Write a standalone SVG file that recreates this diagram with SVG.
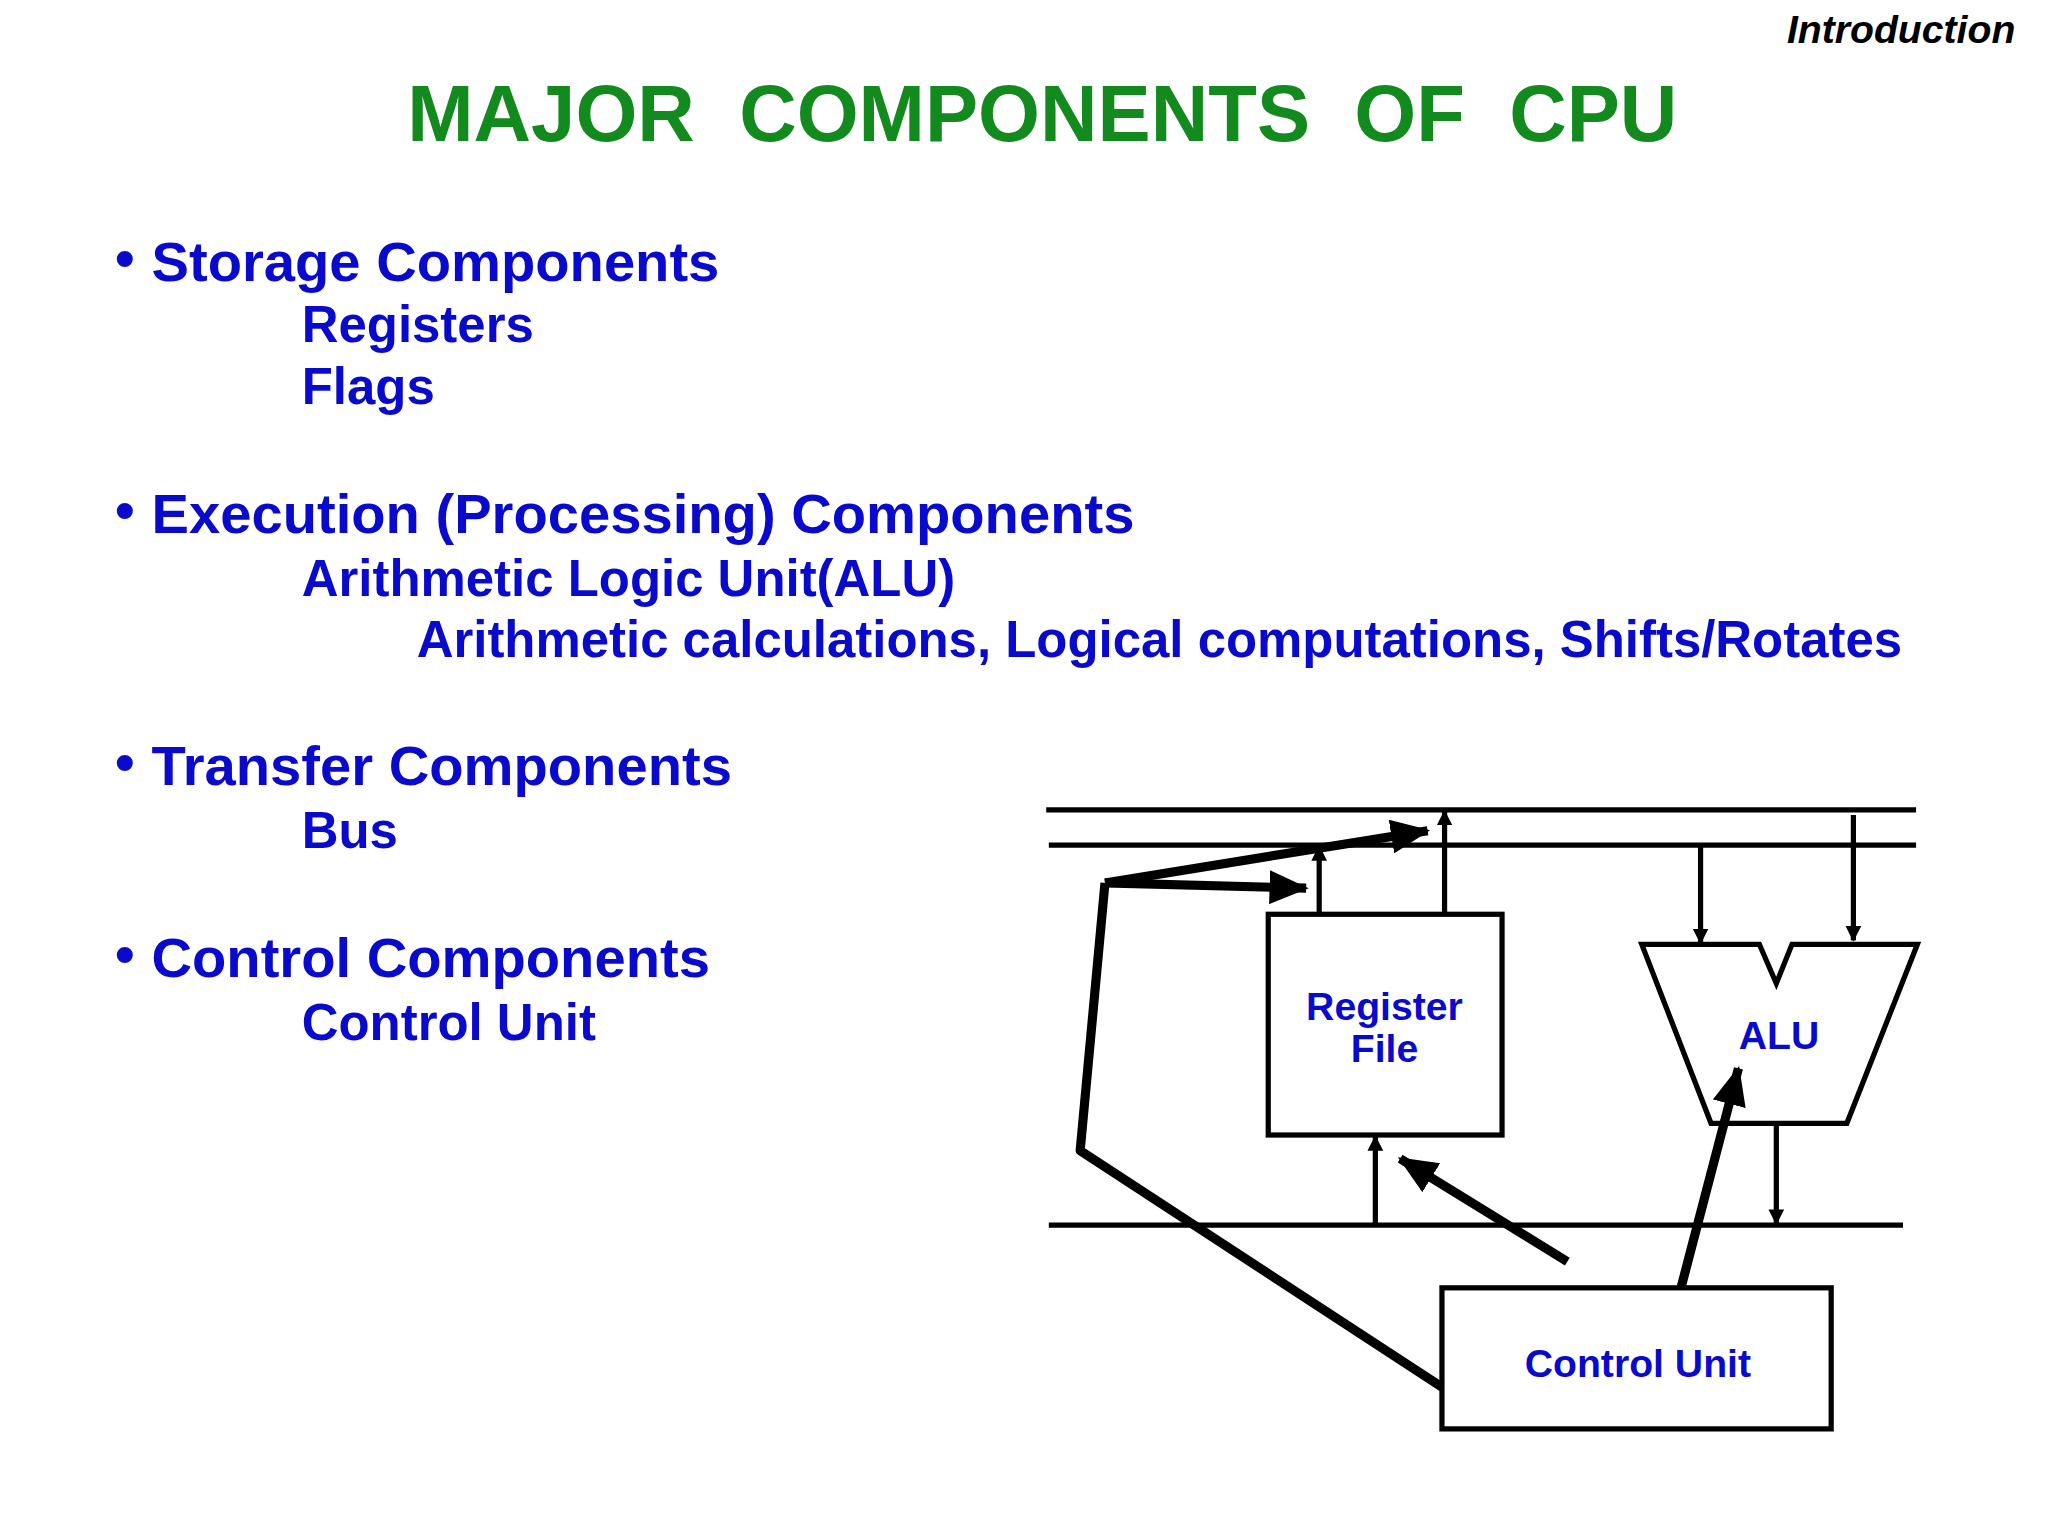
<svg xmlns="http://www.w3.org/2000/svg" width="2048" height="1536" viewBox="0 0 2048 1536">
<style>
.t{font-family:"Liberation Sans",Arial,sans-serif;font-weight:bold;fill:#0a0acc}
.h{font-size:43px}.s{font-size:39px}.n{font-size:30px;text-anchor:middle}
.ln{stroke:#000;stroke-width:4;fill:none}
.tk{stroke:#000;stroke-width:7;fill:none;stroke-linejoin:round}
</style>
<defs>
<marker id="a" markerUnits="userSpaceOnUse" markerWidth="12" markerHeight="14" refX="11" refY="7" orient="auto"><path d="M0,1 L12,7 L0,13 Z" fill="#000"/></marker>
<marker id="b" markerUnits="userSpaceOnUse" markerWidth="30" markerHeight="26" refX="28" refY="13" orient="auto"><path d="M0,0 L30,13 L0,26 Z" fill="#000"/></marker>
</defs>
<rect width="2048" height="1536" fill="#fff"/>
<g transform="scale(1.30612)">
<text x="1543" y="33" font-family="Liberation Sans,Arial,sans-serif" font-weight="bold" font-style="italic" font-size="30" text-anchor="end">Introduction</text>
<text x="798" y="108" font-family="Liberation Sans,Arial,sans-serif" font-weight="bold" font-size="61" fill="#128a1e" text-anchor="middle" xml:space="preserve">MAJOR  COMPONENTS  OF  CPU</text>
<g id="list">
<text class="t h" x="88" y="212">•</text><text class="t h" x="116" y="215">Storage Components</text>
<text class="t s" x="231" y="262">Registers</text>
<text class="t s" x="231" y="309">Flags</text>
<text class="t h" x="88" y="405">•</text><text class="t h" x="116" y="408">Execution (Processing) Components</text>
<text class="t s" x="231" y="456">Arithmetic Logic Unit(ALU)</text>
<text class="t s" x="319" y="503">Arithmetic calculations, Logical computations, Shifts/Rotates</text>
<text class="t h" x="88" y="598">•</text><text class="t h" x="116" y="601">Transfer Components</text>
<text class="t s" x="231" y="649">Bus</text>
<text class="t h" x="88" y="745">•</text><text class="t h" x="116" y="748">Control Components</text>
<text class="t s" x="231" y="796">Control Unit</text>
</g>
<g id="buses">
<line class="ln" x1="801" y1="620" x2="1467" y2="620"/>
<line class="ln" x1="803" y1="647" x2="1467" y2="647"/>
<line class="ln" x1="803" y1="938" x2="1457" y2="938"/>
</g>
<g id="regfile">
<rect class="ln" x="971" y="700" width="179" height="169"/>
<text class="t n" x="1060" y="781">Register</text>
<text class="t n" x="1060" y="813">File</text>
</g>
<g id="alu">
<path class="ln" d="M1257,723 L1347,723 L1360,753 L1372,723 L1468,723 L1414,860 L1310,860 Z"/>
<text class="t n" x="1362" y="803">ALU</text>
</g>
<g id="cu">
<rect class="ln" x="1104" y="986" width="298" height="108"/>
<text class="t n" x="1254" y="1054">Control Unit</text>
</g>
<g id="connectors">
<line class="ln" stroke-width="3" x1="1010" y1="700" x2="1010" y2="648" marker-end="url(#a)"/>
<line class="ln" stroke-width="3" x1="1106" y1="700" x2="1106" y2="621" marker-end="url(#a)"/>
<line class="ln" stroke-width="3" x1="1053" y1="938" x2="1053" y2="870" marker-end="url(#a)"/>
<line class="ln" stroke-width="3" x1="1302" y1="647" x2="1302" y2="722" marker-end="url(#a)"/>
<line class="ln" stroke-width="3" x1="1419" y1="624" x2="1419" y2="720" marker-end="url(#a)"/>
<line class="ln" stroke-width="3" x1="1360" y1="860" x2="1360" y2="937" marker-end="url(#a)"/>
<polyline class="tk" points="1104,1062 827,881 846,676"/>
<line class="tk" x1="846" y1="676" x2="1000" y2="680" marker-end="url(#b)"/>
<line class="tk" x1="846" y1="676" x2="1093" y2="636" marker-end="url(#b)"/>
<line class="tk" x1="1200" y1="966" x2="1072" y2="887" marker-end="url(#b)"/>
<line class="tk" x1="1287" y1="986" x2="1331" y2="818" marker-end="url(#b)"/>
</g>
</g>
</svg>
